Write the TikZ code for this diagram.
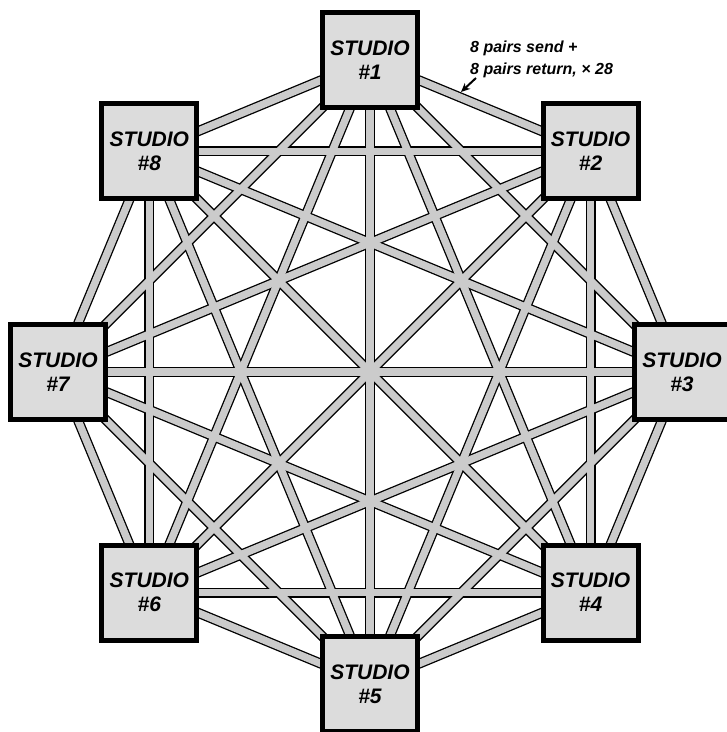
\documentclass[tikz,border=0pt]{standalone}
\usepackage{fontspec}
\setmainfont{Liberation Sans}
\usetikzlibrary{backgrounds,arrows.meta}
\definecolor{cablegray}{HTML}{CBCBCB}
\definecolor{boxgray}{HTML}{DCDCDC}
\begin{document}
\begin{tikzpicture}[x=1pt,y=1pt,
  studio/.style={draw=black, line width=5pt, fill=boxgray, minimum size=95pt,
    inner sep=0pt, align=center, font=\fontsize{21}{24}\selectfont\bfseries\itshape},
  cableout/.style={line width=10pt, black},
  cablein/.style={line width=7.4pt, cablegray},
  note/.style={anchor=base west, inner sep=0pt, font=\fontsize{16}{20}\selectfont\bfseries\itshape},
  pointer/.style={line width=2pt, -{Stealth[length=9pt,width=8pt]}}]
\useasboundingbox (0,0) rectangle (727,732);
\clip (0,0) rectangle (727,732);
\foreach \i in {1,...,8} {
  \node[studio] (s\i) at ({370+312*cos(90-45*(\i-1))},{360+312*sin(90-45*(\i-1))}) {STUDIO\\\#\i};
}
\begin{pgfonlayer}{background}
  \foreach \i in {1,...,7} {
    \pgfmathtruncatemacro\nxt{\i+1}
    \foreach \j in {\nxt,...,8} {
      \draw[cableout] (s\i.center) -- (s\j.center);
    }
  }
  \foreach \i in {1,...,7} {
    \pgfmathtruncatemacro\nxt{\i+1}
    \foreach \j in {\nxt,...,8} {
      \draw[cablein] (s\i.center) -- (s\j.center);
    }
  }
\end{pgfonlayer}
\node[note] (note1) at (470,679) {8 pairs send +};
\node[note] (note2) at (470,657) {8 pairs return, × 28};
\coordinate (tail) at (476,654);
\coordinate (head) at (461,640);
\draw[pointer] (tail) -- (head);
\end{tikzpicture}
\end{document}
